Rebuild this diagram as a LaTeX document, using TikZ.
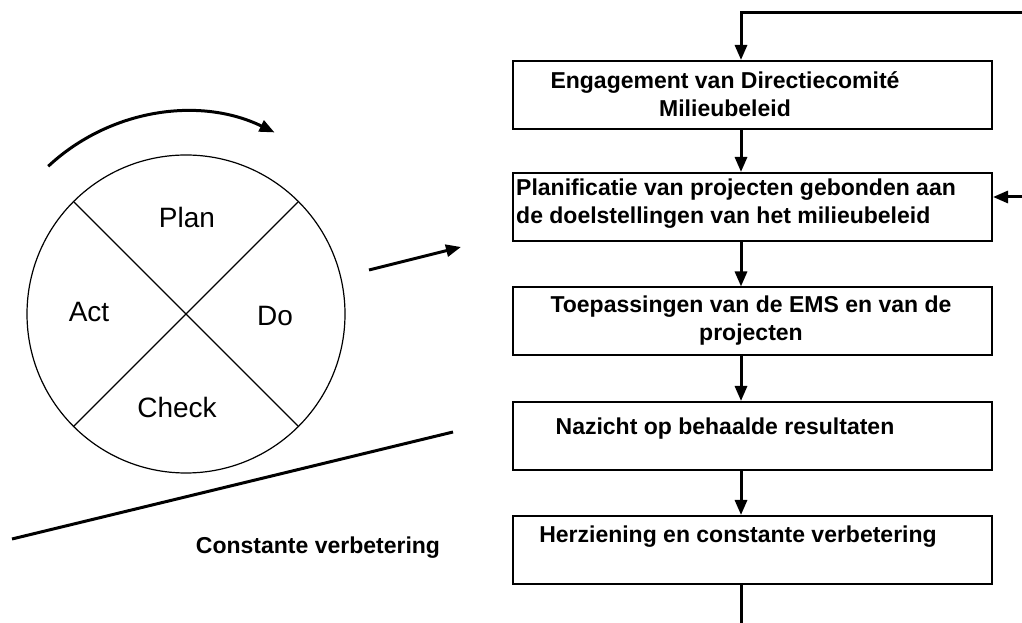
\documentclass[tikz,border=0pt]{standalone}
\usepackage{fontspec}
\setmainfont{Liberation Sans}
\usetikzlibrary{arrows.meta}
\begin{document}
\begin{tikzpicture}[x=1pt,y=1pt,
  conn/.style={line width=3pt,-{Triangle[length=15pt,width=12pt]}},
  plainline/.style={line width=3pt},
  boxnode/.style={draw,line width=2pt,minimum width=479pt,minimum height=68pt,inner sep=0pt},
  boxtext/.style={inner sep=0pt,font=\fontsize{23}{28}\selectfont\bfseries},
  pdca/.style={inner sep=0pt,font=\fontsize{28}{32}\selectfont}]
\useasboundingbox (0,0) rectangle (1022,623);
% PDCA circle
\node[draw,circle,line width=1.2pt,minimum size=318pt,inner sep=0pt] (c) at (186,309) {};
\draw[line width=1.2pt] (c.135) -- (c.-45);
\draw[line width=1.2pt] (c.45) -- (c.225);
\node[pdca] (plan) at (187,406) {Plan};
\node[pdca] (act) at (89,311) {Act};
\node[pdca] (do) at (275,307) {Do};
\node[pdca] (check) at (177,216) {Check};
% rotation arrow
\draw[conn] (c.center) ++(133:202) arc[start angle=133,end angle=64,radius=202];
% arrow towards process
\coordinate (ra1) at (369,353);
\coordinate (ra2) at (461,376);
\draw[conn] (ra1) -- (ra2);
% slope line
\coordinate (sl1) at (12,84);
\coordinate (sl2) at (453,191);
\draw[plainline] (sl1) -- (sl2);
\node[boxtext] (cv) at (318,75) {Constante verbetering};
% boxes
\node[boxnode] (b1) at (752.5,528) {};
\node[boxnode] (b2) at (752.5,416) {};
\node[boxnode] (b3) at (752.5,301.5) {};
\node[boxnode] (b4) at (752.5,187) {};
\node[boxnode] (b5) at (752.5,73) {};
\node[boxtext,align=center] (t1) at (725,529) {Engagement van Directiecomité\\Milieubeleid};
\node[boxtext,align=left,anchor=west] (t2) at (516,419) {Planificatie van projecten gebonden aan\\de doelstellingen van het milieubeleid};
\node[boxtext,align=center] (t3) at (751,302) {Toepassingen van de EMS en van de\\projecten};
\node[boxtext] (t4) at (725,194) {Nazicht op behaalde resultaten};
\node[boxtext] (t5) at (738,86) {Herziening en constante verbetering};
% connectors
\coordinate (vx) at (741,0);
\draw[conn] (b1.south -| vx) -- (b2.north -| vx);
\draw[conn] (b2.south -| vx) -- (b3.north -| vx);
\draw[conn] (b3.south -| vx) -- (b4.north -| vx);
\draw[conn] (b4.south -| vx) -- (b5.north -| vx);
\coordinate (bot) at (741,0);
\draw[plainline] (b5.south -| vx) -- (bot);
\coordinate (fbR) at (1022,610);
\coordinate (fbL) at (741,610);
\draw[conn] (fbR) -- (fbL) -- (b1.north -| fbL);
\coordinate (inR) at (1022,426);
\draw[conn] (inR) -- (b2.east |- inR);
\end{tikzpicture}
\end{document}
